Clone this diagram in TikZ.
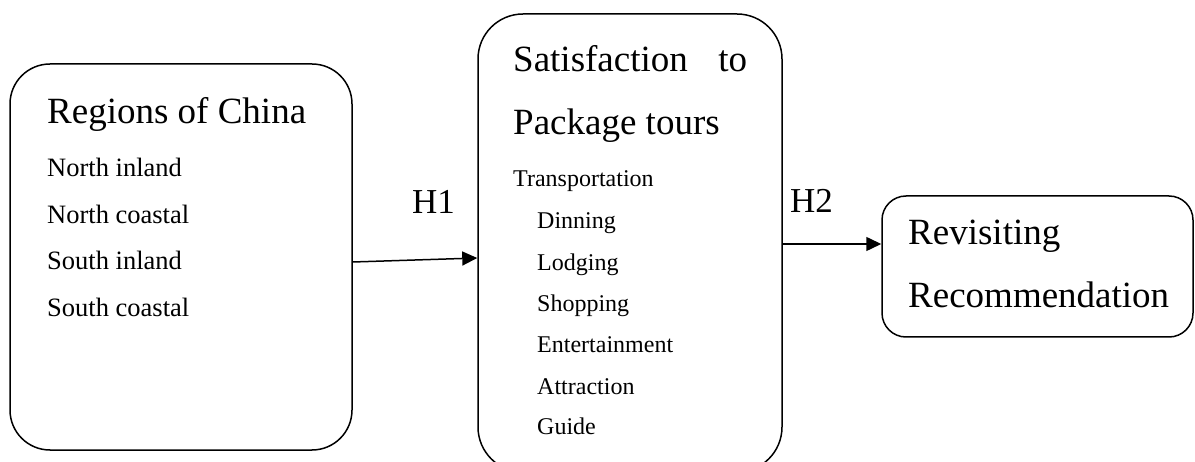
\documentclass[tikz,border=0pt]{standalone}
\usepackage{fontspec}
\setmainfont{Liberation Serif}
\usetikzlibrary{arrows.meta}
\begin{document}
\begin{tikzpicture}[x=1pt,y=-1pt,
  boxstyle/.style={draw=black,line width=1.5pt,rectangle,inner sep=0pt},
  bigtxt/.style={anchor=base west,inner sep=0pt,font=\fontsize{37}{44}\selectfont},
  lefttxt/.style={anchor=base west,inner sep=0pt,font=\fontsize{26.5}{32}\selectfont},
  midtxt/.style={anchor=base west,inner sep=0pt,font=\fontsize{24}{29}\selectfont},
  htxt/.style={anchor=base west,inner sep=0pt,font=\fontsize{35}{42}\selectfont},
  arr/.style={line width=1.5pt,-{Triangle[length=15pt,width=14pt]}}]
\useasboundingbox (0,0) rectangle (1195,462);
% boxes
\node[boxstyle,rounded corners=40pt,minimum width=342pt,minimum height=386pt] (box1) at (181,257) {};
\node[boxstyle,rounded corners=45pt,minimum width=304pt,minimum height=458pt] (box2) at (630,243) {};
\node[boxstyle,rounded corners=24pt,minimum width=311pt,minimum height=141pt] (box3) at (1037.5,266.5) {};
% box 1 text
\node[bigtxt] (t1) at (47,124) {Regions of China};
\node[lefttxt] (a1) at (47,177) {North inland};
\node[lefttxt] (a2) at (47,224) {North coastal};
\node[lefttxt] (a3) at (47,270) {South inland};
\node[lefttxt] (a4) at (47,317) {South coastal};
% box 2 text
\node[bigtxt] (t2a) at (513,72) {\hbox to 234pt{Satisfaction\hfil to}};
\node[bigtxt] (t2b) at (513,135) {Package tours};
\node[midtxt] (b1) at (513,187) {Transportation};
\node[midtxt] (b2) at (537,229) {Dinning};
\node[midtxt] (b3) at (537,271) {Lodging};
\node[midtxt] (b4) at (537,312) {Shopping};
\node[midtxt] (b5) at (537,353) {Entertainment};
\node[midtxt] (b6) at (537,395) {Attraction};
\node[midtxt] (b7) at (537,435) {Guide};
% box 3 text
\node[bigtxt] (t3a) at (908,245) {Revisiting};
\node[bigtxt] (t3b) at (908,308) {Recommendation};
% labels
\node[htxt] (h1) at (412,214) {H1};
\node[htxt] (h2) at (790,213) {H2};
% arrows
\draw[arr] ([yshift=-5pt]box1.east) -- ([yshift=-15pt]box2.west);
\draw[arr] ([yshift=-1pt]box2.east) -- ([yshift=22.5pt]box3.west);
\end{tikzpicture}
\end{document}
